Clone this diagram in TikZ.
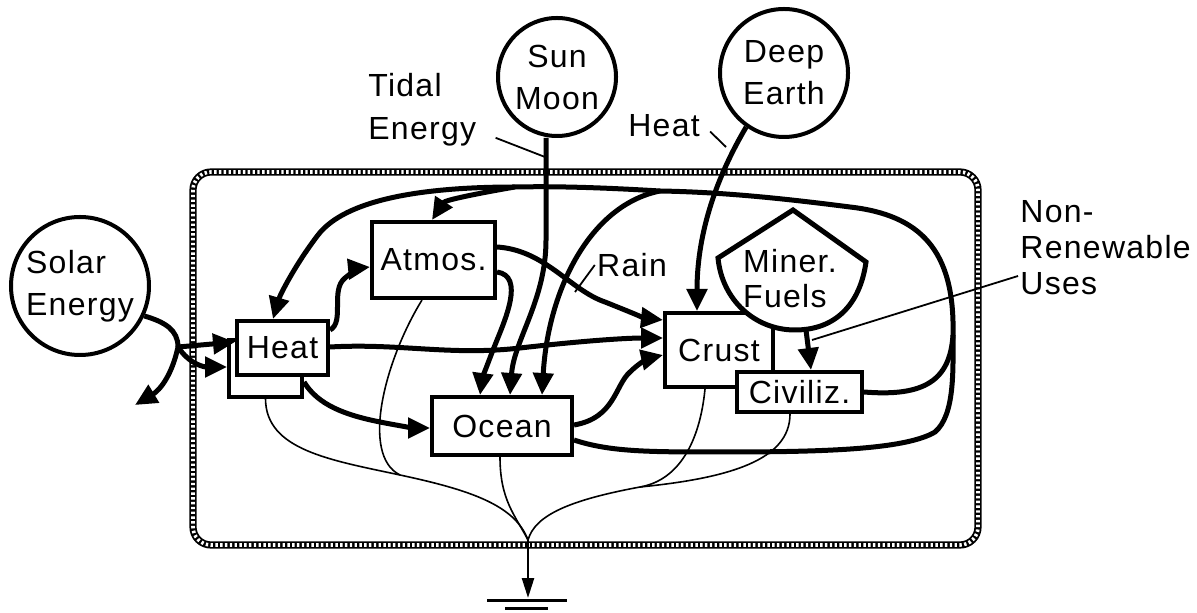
\documentclass[tikz,border=0pt]{standalone}
\usepackage{fontspec}
\setmainfont{Liberation Sans}[LetterSpace=4]
\usetikzlibrary{arrows.meta}

\begin{document}
\begin{tikzpicture}[
    x=0.5pt, y=-0.5pt,
    every node/.style={font=\fontsize{16}{21}\selectfont, inner sep=1pt},
    box/.style={draw, line width=2pt, fill=white, inner sep=0pt},
    src/.style={draw, circle, line width=2pt, fill=white, inner sep=0pt, align=center},
    flow/.style={line width=2.5pt, -{Triangle[length=11pt, width=10pt]}},
    flowplain/.style={line width=2.5pt},
    sinkline/.style={line width=0.8pt},
    pointer/.style={line width=0.9pt}
]
\useasboundingbox (0,0) rectangle (1197,613);

% system boundary
\draw[line width=3.6pt, rounded corners=9pt] (193,172) rectangle (978,545);
\draw[white, line width=1.8pt, dash pattern=on 1.2pt off 1.2pt, rounded corners=9pt]
    (193,172) rectangle (978,545);

% energy sources
\node[src, minimum size=69pt, align=left] (solar) at (80,286) {Solar\\Energy};
\node[src, minimum size=59pt] (sun) at (557,77) {Sun\\Moon};
\node[src, minimum size=64pt] (deep) at (784,73) {Deep\\Earth};

% storages
\node[box, minimum width=36.5pt, minimum height=28.5pt] (heatb) at (265.5,368.5) {};
\node[box, minimum width=45.5pt, minimum height=27pt] (heat) at (282.5,348) {Heat};
\node[box, minimum width=61.5pt, minimum height=38pt] (atmos) at (433.5,260) {Atmos.};
\node[box, minimum width=70pt, minimum height=29pt] (ocean) at (502,426) {Ocean};
\node[box, minimum width=54pt, minimum height=37pt] (crust) at (719,350) {Crust};

% mineral fuels
\filldraw[fill=white, line width=2.5pt] (793,210) -- (866,262)
    .. controls (860,305) and (835,330) .. (795,330)
    .. controls (755,330) and (722,300) .. (718,258) -- cycle;
\node[align=left, font=\fontsize{16}{17.5}\selectfont] (miner) at (790,279) {Miner.\\Fuels};

\node[box, minimum width=62.5pt, minimum height=20pt] (civ) at (799.5,392) {Civiliz.};

% labels
\node[align=left, anchor=west, font=\fontsize{16}{21.5}\selectfont] (tidal) at (366,110) {Tidal\\Energy};
\node (heatlbl) at (664,126) {Heat};
\node (rain) at (632,265) {Rain};
\node[align=left, anchor=west, font=\fontsize{16}{18}\selectfont] (nonren) at (1018,248)
    {Non-\\Renewable\\Uses};

% free ends
\coordinate (sj) at (178,347);
\coordinate (solarout) at (135,405);
\coordinate (abranch) at (515,187);
\coordinate (rbranch) at (660,191);
\coordinate (cjoin) at (953,335);
\coordinate (minerbot) at (806,330);
\coordinate (usept) at (812,340);
\coordinate (tidalpt) at (545,157);
\coordinate (heatpt) at (726,147);
\coordinate (rainpt) at (575,292);
\coordinate (hj) at (400,475);
\coordinate (cj) at (640,487);
\coordinate (sink) at (528,540);
\coordinate (earth) at (528,598);

% heat sink
\draw[sinkline] (heatb.south) .. controls (266,450) and (330,460) .. (hj)
    .. controls (470,490) and (515,505) .. (sink);
\draw[sinkline] (atmos.south -| 422,0) .. controls (385,360) and (360,455) .. (hj);
\draw[sinkline] (ocean.south -| 500,0) .. controls (500,500) and (515,515) .. (sink);
\draw[sinkline] (crust.south -| 705,0) .. controls (700,440) and (680,480) .. (cj);
\draw[sinkline] (civ.south -| 790,0) .. controls (790,460) and (730,478) .. (cj)
    .. controls (570,500) and (535,515) .. (sink);
\draw[line width=1.2pt, -{Triangle[length=10pt, width=6pt]}] (sink) -- (earth);
\draw[line width=1.5pt] (487,600) -- (567,600);
\draw[line width=1.5pt] (505,608) -- (548,608);

% solar input
\draw[flowplain] (solar.-25) .. controls (165,322) and (178,330) .. (sj);
\draw[flow] (sj) -- (heat.west |- 0,342);
\draw[flow] (sj) .. controls (190,365) and (205,367) .. (heatb.west |- 0,367);
\draw[flow] (sj) .. controls (172,375) and (160,390) .. (solarout);

% internal flows
\draw[flow] (heat.east |- 0,330) .. controls (345,322) and (330,290) .. (345,278)
    .. controls (352,272) and (360,268) .. (atmos.west |- 0,267);
\draw[flow] (heatb.east |- 0,382) .. controls (318,405) and (345,415) .. (380,422)
    .. controls (400,426) and (415,428) .. (ocean.west |- 0,428);
\draw[flow] (heat.east |- 0,347) .. controls (400,343) and (450,356) .. (520,348)
    .. controls (590,340) and (630,338) .. (crust.west |- 0,338);
\draw[flow] (atmos.east |- 0,247) .. controls (545,250) and (570,290) .. (605,302)
    .. controls (625,310) and (645,318) .. (crust.west |- 0,320);
\draw[flow] (atmos.east |- 0,272) .. controls (525,276) and (505,320) .. (495,345)
    .. controls (487,365) and (482,380) .. (ocean.north -| 480,0);
\draw[flow] (sun.south -| 546,0) -- (546,240) .. controls (546,300) and (514,340)
    .. (ocean.north -| 510,0);
\draw[flow] (ocean.east |- 0,425) .. controls (615,418) and (615,385) .. (630,372)
    .. controls (640,362) and (650,358) .. (crust.west |- 0,355);
\draw[flow] (deep.235) .. controls (712,185) and (697,240) .. (crust.north -| 697,0);
\draw[flow] (minerbot) -- (civ.north -| 811,0);

% recycle loop
\draw[flow] (ocean.east |- 0,440) .. controls (610,452) and (650,452) .. (720,452)
    .. controls (820,452) and (905,450) .. (935,432)
    .. controls (955,415) and (953,370) .. (cjoin)
    .. controls (955,250) and (920,215) .. (850,207)
    .. controls (780,198) and (720,192) .. (rbranch)
    .. controls (610,188) and (560,186) .. (abranch)
    .. controls (420,187) and (345,200) .. (318,235)
    .. controls (295,265) and (280,295) .. (heat.north -| 273,0);
\draw[flow] (abranch) .. controls (480,193) and (445,200) .. (atmos.north -| 432,0);
\draw[flow] (rbranch) .. controls (590,205) and (548,290) .. (ocean.north -| 542,0);
\draw[flowplain] (civ.east) .. controls (925,397) and (950,380) .. (cjoin);

% pointers
\draw[pointer] ([shift={(8.5pt,5.5pt)}]tidal.south east) -- (tidalpt);
\draw[pointer] ([shift={(4pt,4pt)}]heatlbl.south east) -- (heatpt);
\draw[pointer] (rain.west) -- (rainpt);
\draw[pointer] (usept) -- ([yshift=-14pt]nonren.west);

\end{tikzpicture}
\end{document}
